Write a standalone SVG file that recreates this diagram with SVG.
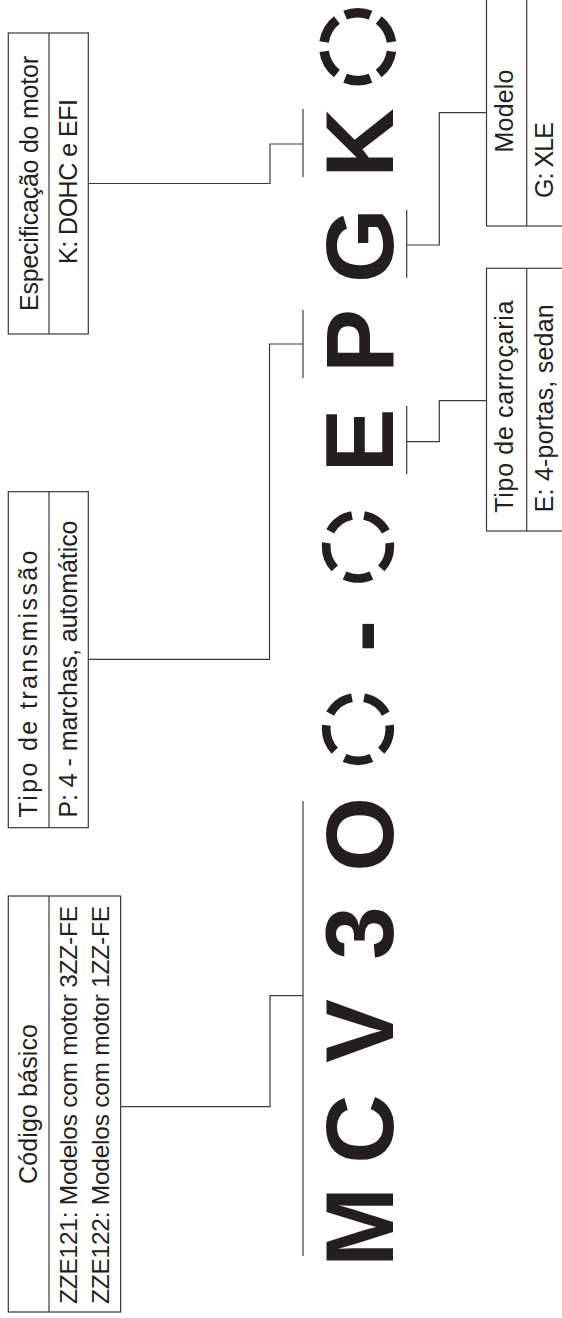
<svg xmlns="http://www.w3.org/2000/svg" width="562" height="1318" viewBox="0 0 562 1318">
<style>
.box{fill:#fff;stroke:#3a3a3a;stroke-width:1.2}
.div{stroke:#3a3a3a;stroke-width:1.2}
.lbl{font-family:"Liberation Sans",Arial,sans-serif;font-size:25px;fill:#231f20;text-anchor:middle}
.big{font-family:"Liberation Sans",Arial,sans-serif;font-weight:bold;font-size:96px;fill:#231f20;text-anchor:middle}
.con{fill:none;stroke:#3a3a3a;stroke-width:1.2}
.dc{fill:none;stroke:#231f20}
</style>
<rect width="562" height="1318" fill="#fff"/>
<g id="connectors">
<polyline class="con" points="88.3,183.5 270,183.5 270,144 303,144"/>
<line class="con" x1="303" y1="109" x2="303" y2="177"/>
<polyline class="con" points="88.3,659.3 269.5,659.3 269.5,344 303,344"/>
<line class="con" x1="303" y1="310" x2="303" y2="378"/>
<polyline class="con" points="120.6,1106.7 270,1106.7 270,995.7 303,995.7"/>
<line class="con" x1="303" y1="801" x2="303" y2="1256"/>
<polyline class="con" points="486.5,112.7 439.3,112.7 439.3,245 406.7,245"/>
<line class="con" x1="406.7" y1="210" x2="406.7" y2="277.7"/>
<polyline class="con" points="486.5,400.7 439.3,400.7 439.3,441.7 406.7,441.7"/>
<line class="con" x1="406.7" y1="406" x2="406.7" y2="474.3"/>
</g>
<g id="box-motor">
<rect class="box" x="8.3" y="33" width="80" height="301"/>
<line class="div" x1="49" y1="33" x2="49" y2="334"/>
<text class="lbl" transform="translate(37.5,183.5) rotate(-90)" textLength="255">Especificação do motor</text>
<text class="lbl" transform="translate(77,181.5) rotate(-90)" textLength="165">K: DOHC e EFI</text>
</g>
<g id="box-transmissao">
<rect class="box" x="8.3" y="491.7" width="80" height="336"/>
<line class="div" x1="49" y1="491.7" x2="49" y2="827.7"/>
<text class="lbl" transform="translate(37.3,684) rotate(-90)" textLength="267">Tipo de transmissão</text>
<text class="lbl" transform="translate(76.7,669) rotate(-90)" textLength="297">P: 4 - marchas, automático</text>
</g>
<g id="box-codigo">
<rect class="box" x="8.3" y="896" width="112.3" height="416"/>
<line class="div" x1="49" y1="896" x2="49" y2="1312"/>
<text class="lbl" transform="translate(37.4,1104) rotate(-90)" textLength="160">Código  básico</text>
<text class="lbl" transform="translate(77,1105) rotate(-90)" textLength="398" style="font-size:24.5px">ZZE121: Modelos com motor 3ZZ-FE</text>
<text class="lbl" transform="translate(109,1105) rotate(-90)" textLength="398" style="font-size:24.5px">ZZE122: Modelos com motor 1ZZ-FE</text>
</g>
<g id="box-modelo">
<rect class="box" x="486.5" y="-5" width="80" height="231"/>
<line class="div" x1="526.7" y1="-5" x2="526.7" y2="226"/>
<text class="lbl" transform="translate(513.3,111) rotate(-90)" textLength="83">Modelo</text>
<text class="lbl" transform="translate(553.3,160) rotate(-90)" textLength="76">G: XLE</text>
</g>
<g id="box-carrocaria">
<rect class="box" x="486.5" y="268.3" width="80" height="262.7"/>
<line class="div" x1="526.7" y1="268.3" x2="526.7" y2="531"/>
<text class="lbl" transform="translate(513.3,406.7) rotate(-90)" textLength="212">Tipo de carroçaria</text>
<text class="lbl" transform="translate(553.3,408.3) rotate(-90)" textLength="208">E: 4-portas, sedan</text>
</g>
<g id="code">
<text class="big" transform="translate(392.7,1227) rotate(-90)">M</text>
<text class="big" transform="translate(392.7,1129) rotate(-90)">C</text>
<text class="big" transform="translate(392.7,1031) rotate(-90)">V</text>
<text class="big" transform="translate(392.7,933) rotate(-90)">3</text>
<text class="big" transform="translate(392.7,834.5) rotate(-90)">O</text>
<circle class="dc" cx="358" cy="729" r="31.8" stroke-width="8.7" pathLength="360" stroke-dasharray="50 22" stroke-dashoffset="7"/>
<text class="big" transform="translate(392.7,636) rotate(-90)">-</text>
<circle class="dc" cx="358" cy="546.7" r="31.8" stroke-width="8.7" pathLength="360" stroke-dasharray="50 22" stroke-dashoffset="7"/>
<text class="big" transform="translate(392.7,440.5) rotate(-90)">E</text>
<text class="big" transform="translate(392.7,341) rotate(-90)">P</text>
<text class="big" transform="translate(392.7,245.7) rotate(-90)">G</text>
<text class="big" transform="translate(392.7,143) rotate(-90)">K</text>
<circle class="dc" cx="357.8" cy="46.7" r="34" stroke-width="9.5" pathLength="360" stroke-dasharray="44 16" stroke-dashoffset="52"/>
</g>
</svg>
